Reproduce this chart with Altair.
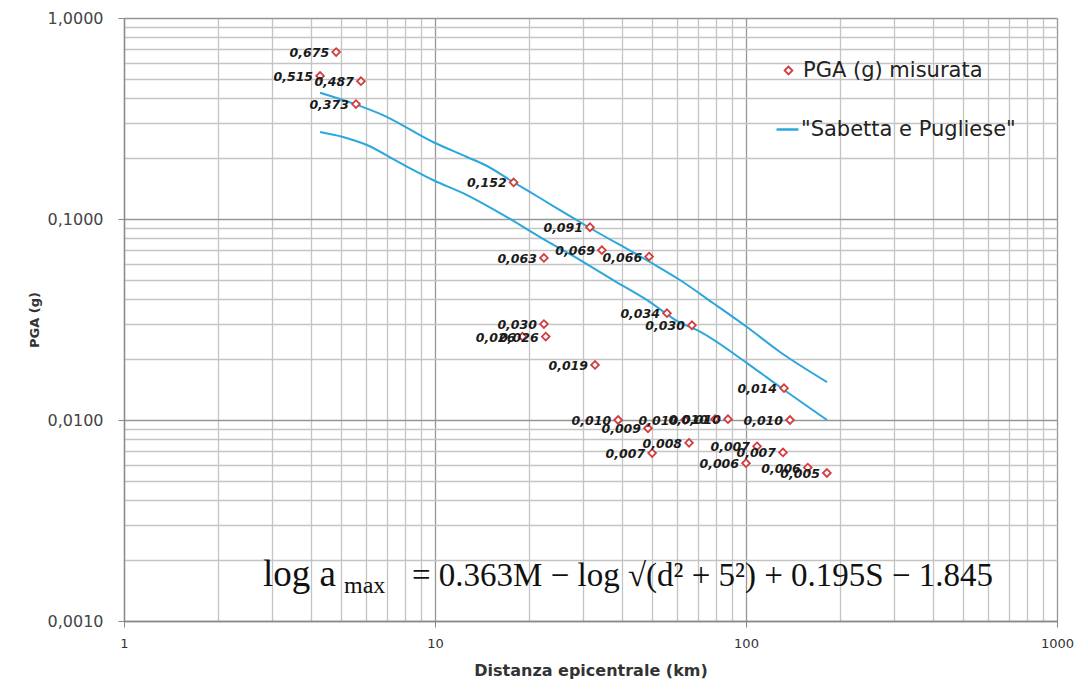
import altair as alt
import pandas as pd

# ---- data ----
dist_km = [4.81, 4.27, 5.78, 5.57, 17.9, 31.5, 22.4, 34.4, 48.8, 55.7, 67.0,
           22.4, 22.7, 19.1, 32.7, 132.5, 38.8, 48.4, 63.7, 79.5, 87.5, 138.5,
           49.9, 65.6, 108.5, 131.5, 100.0, 158.0, 182.0]
pga_g = [0.677, 0.515, 0.485, 0.373, 0.152, 0.091, 0.064, 0.070, 0.065, 0.034, 0.0296,
         0.030, 0.026, 0.026, 0.0188, 0.0144, 0.0100, 0.0091, 0.0100, 0.0101, 0.0101, 0.0100,
         0.00685, 0.0077, 0.0074, 0.0069, 0.0061, 0.0058, 0.00545]
pga_label = ["0,675", "0,515", "0,487", "0,373", "0,152", "0,091", "0,063", "0,069", "0,066",
             "0,034", "0,030", "0,030", "0,026", "0,026", "0,019", "0,014", "0,010", "0,009",
             "0,010", "0,010", "0,010", "0,010", "0,007", "0,008", "0,007", "0,007", "0,006",
             "0,006", "0,005"]

curve_up_x = [4.27, 5.53, 6.80, 9.85, 12.67, 14.70, 17.82, 21.76, 27.78, 31.5, 49.1, 61.3,
              78.3, 100.7, 128.6, 182.2]
curve_up_y = [0.425, 0.373, 0.329, 0.2416, 0.2035, 0.1835, 0.1528, 0.1272, 0.1012, 0.0902,
              0.0611, 0.0497, 0.0382, 0.0290, 0.0218, 0.01545]
curve_lo_x = [4.27, 5.06, 6.04, 7.72, 9.85, 12.67, 16.18, 21.76, 29.3, 37.4, 48.1, 61.3,
              69.6, 100.7, 128.6, 182.2]
curve_lo_y = [0.2709, 0.2559, 0.2334, 0.19, 0.1563, 0.1316, 0.1071, 0.0813, 0.0625, 0.0497,
              0.0395, 0.0305, 0.028, 0.0192, 0.0146, 0.0100]

x_ticks = [k * 10 ** e for e in range(0, 3) for k in range(1, 10)] + [1000]
y_ticks = [k * 10.0 ** e for e in range(-3, 0) for k in range(1, 10)] + [1.0]

serie_pts = "PGA (g) misurata"
serie_line = '"Sabetta e Pugliese"'

eq_base = "log a"
eq_sub = "max"
eq_rest = "= 0.363M − log √(d² + 5²) + 0.195S − 1.845"

pts = pd.DataFrame({"d": dist_km, "pga": pga_g, "lab": pga_label, "serie": serie_pts})
curves = pd.concat([
    pd.DataFrame({"d": curve_up_x, "pga": curve_up_y, "curva": "S1", "serie": serie_line}),
    pd.DataFrame({"d": curve_lo_x, "pga": curve_lo_y, "curva": "S0", "serie": serie_line}),
])

decade = "abs(log(datum.value)/LN10 - round(log(datum.value)/LN10)) < 1e-6"
grid_color = {"condition": {"test": decade, "value": "#969696"}, "value": "#c4c4c4"}
tick_op = {"condition": {"test": decade, "value": 1}, "value": 0}

x_enc = alt.X("d:Q", scale=alt.Scale(type="log", domain=[1, 1000], nice=False),
              axis=alt.Axis(values=x_ticks, title="Distanza epicentrale (km)",
                            labelExpr=decade + " ? '' + datum.value : ''",
                            labelOverlap=False, labelFlush=False,
                            gridColor=grid_color, gridWidth=1.3,
                            tickOpacity=tick_op, tickSize=6, tickColor="#888",
                            domainColor="#888", domainWidth=1.3,
                            labelFont="DejaVu Sans", labelFontSize=13, labelColor="#333",
                            labelPadding=10,
                            titleFont="DejaVu Sans", titleFontSize=16, titleFontWeight="bold",
                            titleColor="#333", titlePadding=12))
y_enc = alt.Y("pga:Q", scale=alt.Scale(type="log", domain=[0.001, 1], nice=False),
              axis=alt.Axis(values=y_ticks, title="PGA (g)",
                            labelExpr=decade + " ? replace(format(datum.value, '.4f'), '.', ',') : ''",
                            labelOverlap=False, labelFlush=False,
                            gridColor=grid_color, gridWidth=1.3,
                            tickOpacity=tick_op, tickSize=6, tickColor="#888",
                            domainColor="#888", domainWidth=1.3,
                            labelFont="DejaVu Sans", labelFontSize=16, labelColor="#444",
                            labelPadding=15,
                            titleFont="DejaVu Sans", titleFontSize=13, titleFontWeight="bold",
                            titleColor="#333", titlePadding=6))

lines = alt.Chart(curves).mark_line(strokeWidth=2, interpolate="monotone").encode(
    x=x_enc, y=y_enc, detail="curva:N",
    stroke=alt.Stroke("serie:N", scale=alt.Scale(range=["#2ba7de"]),
                      legend=alt.Legend(title=None, orient="none", legendX=651, legendY=99,
                                        symbolType="stroke", symbolSize=480, symbolStrokeWidth=2.5,
                                        labelFont="DejaVu Sans", labelFontSize=21, labelColor="#222",
                                        labelOffset=1, labelLimit=0, padding=0)),
)

points = alt.Chart(pts).mark_point(shape="diamond", filled=False, fill="white", size=60,
                                   strokeWidth=1.8, opacity=1).encode(
    x="d:Q", y="pga:Q",
    color=alt.Color("serie:N", scale=alt.Scale(range=["#d43c3c"]),
                    legend=alt.Legend(title=None, orient="none", legendX=654, legendY=42,
                                      symbolType="diamond", symbolSize=60, symbolStrokeWidth=1.8,
                                      symbolFillColor="white",
                                      labelFont="DejaVu Sans", labelFontSize=21, labelColor="#222",
                                      labelOffset=4, labelLimit=0, padding=0)),
)

labels = alt.Chart(pts).mark_text(align="right", baseline="middle", dx=-7, dy=1,
                                  font="DejaVu Sans", fontSize=12.5, fontWeight="bold",
                                  fontStyle="italic", color="#1a1a1a").encode(
    x="d:Q", y="pga:Q", text="lab:N")

eq_font = "Liberation Serif"
one_row = pd.DataFrame({"k": [0]})
def eq(txt, x, y, size=33, align="left"):
    return alt.Chart(one_row).mark_text(text=txt, font=eq_font, fontSize=size, align=align,
                                        baseline="alphabetic", color="#111").encode(
        x=alt.value(x), y=alt.value(y))

equation = (eq(eq_base, 139, 568, size=37) + eq(eq_sub, 220, 575, size=24) +
            eq(eq_rest, 288, 568))

chart = alt.layer(lines, points, labels, equation).properties(
    width=933, height=603,
    autosize=alt.AutoSizeParams(type="none"),
    padding={"left": 116, "top": 10, "right": 20, "bottom": 62},
    background="white",
).configure_view(strokeWidth=0).resolve_legend(color="independent", stroke="independent")

chart.save("out.html", embed_options={"renderer": "svg", "actions": False})
